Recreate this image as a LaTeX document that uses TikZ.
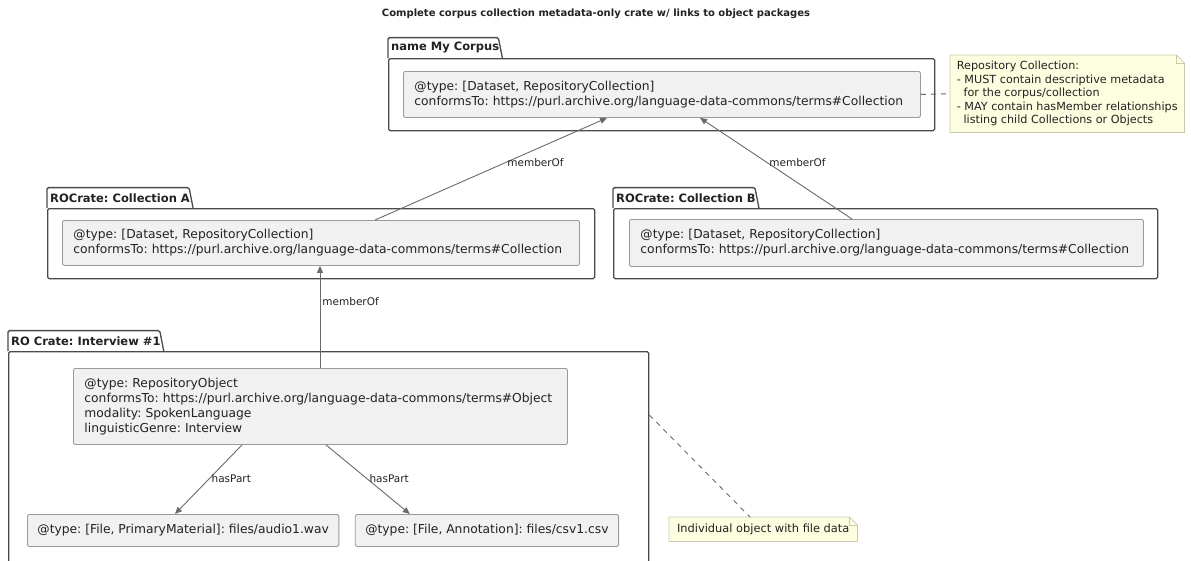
\documentclass[tikz,border=0pt]{standalone}
\usepackage{fontspec}
\setmainfont{DejaVu Sans}
\frenchspacing
\usetikzlibrary{arrows.meta,calc,backgrounds}
\definecolor{ink}{HTML}{222222}
\definecolor{pkgline}{HTML}{4A4A4A}
\definecolor{boxline}{HTML}{9A9A9A}
\definecolor{boxfill}{HTML}{F1F1F1}
\definecolor{relline}{HTML}{6A6A6A}
\definecolor{notefill}{HTML}{FDFDE0}
\definecolor{noteline}{HTML}{C9C9B0}
\tikzset{
  pkgbody/.style={draw=pkgline, line width=1.3pt, fill=white, inner sep=0pt, rounded corners=1.5pt},
  pkgtab/.style={inner xsep=3pt, inner ysep=0pt, minimum height=20pt, text=ink,
    font=\fontsize{11.5}{13}\selectfont\bfseries, anchor=south west},
  tabline/.style={draw=pkgline, line width=1.3pt, fill=white, rounded corners=1.5pt},
  entity/.style={draw=boxline, line width=0.9pt, fill=boxfill, rounded corners=2pt,
    inner xsep=11pt, inner ysep=0pt, align=left, text=ink, anchor=north west,
    font=\fontsize{12.3}{14.8}\selectfont},
  filebox/.style={entity, inner xsep=10pt, minimum height=32pt},
  rel/.style={draw=relline, line width=0.9pt, -{Triangle[length=7pt,width=6pt]}},
  rellabel/.style={right, inner xsep=2pt, text=ink, font=\fontsize{10.5}{12}\selectfont},
  notebox/.style={inner xsep=6pt, inner ysep=4pt, align=left, text=ink, anchor=north west},
  noteshape/.style={draw=noteline, line width=0.8pt, fill=notefill},
  notelink/.style={draw=relline, line width=0.9pt, dash pattern=on 5pt off 5pt},
  heading/.style={text=ink, font=\fontsize{10}{12}\selectfont\bfseries}
}
\begin{document}
\begin{tikzpicture}[x=1pt,y=-1pt]
\useasboundingbox (0,0) rectangle (1191,560);
\clip (0,0) rectangle (1191,560);

\node[heading] (title) at (596,14) {Complete corpus collection metadata-only crate w/ links to object packages};

% ---------- package: name My Corpus ----------
\node[pkgbody, anchor=north west, minimum width=546pt, minimum height=72pt] (pCorpus) at (388,58) {};
\node[pkgtab] (tCorpus) at (388,58) {name My Corpus\hspace{5pt}};
\node[entity, minimum width=517pt, minimum height=46pt, text width=495pt] (corpus) at (403,71)
  {@type: [Dataset, RepositoryCollection]\\conformsTo: https://purl.archive.org/language-data-commons/terms\#Collection};

% ---------- package: ROCrate: Collection A ----------
\node[pkgbody, anchor=north west, minimum width=547pt, minimum height=70pt] (pA) at (47,208) {};
\node[pkgtab] (tA) at (47,208) {ROCrate: Collection A\hspace{5pt}};
\node[entity, minimum width=517pt, minimum height=45pt, text width=495pt] (collA) at (62,220)
  {@type: [Dataset, RepositoryCollection]\\conformsTo: https://purl.archive.org/language-data-commons/terms\#Collection};

% ---------- package: ROCrate: Collection B ----------
\node[pkgbody, anchor=north west, minimum width=544pt, minimum height=70pt] (pB) at (613,208) {};
\node[pkgtab] (tB) at (613,208) {ROCrate: Collection B\hspace{5pt}};
\node[entity, minimum width=514pt, minimum height=47pt, text width=492pt] (collB) at (629,219)
  {@type: [Dataset, RepositoryCollection]\\conformsTo: https://purl.archive.org/language-data-commons/terms\#Collection};

% ---------- package: RO Crate: Interview #1 ----------
\node[pkgbody, anchor=north west, minimum width=640pt, minimum height=230pt] (pI) at (8,351) {};
\node[pkgtab] (tI) at (8,351) {RO Crate: Interview \#1\hspace{5pt}};
\node[entity, minimum width=494pt, minimum height=76pt, text width=472pt] (obj) at (73,368)
  {@type: RepositoryObject\\conformsTo: https://purl.archive.org/language-data-commons/terms\#Object\\modality: SpokenLanguage\\linguisticGenre: Interview};
\node[filebox] (audio) at (27,514) {@type: [File, PrimaryMaterial]: files/audio1.wav};
\node[filebox, anchor=north east] (csv) at (619,514) {@type: [File, Annotation]: files/csv1.csv};

% package tabs, drawn behind their labels
\begin{scope}[on background layer]
  \foreach \t in {tCorpus,tA,tB,tI}
    \draw[tabline] (\t.south west) -- (\t.north west) -- ([xshift=-4pt]\t.north east) -- (\t.south east);
\end{scope}

% ---------- relations ----------
\draw[rel] ($(collA.north west)+(313,0)$) -- node[rellabel, pos=0.56] {memberOf} ($(corpus.south west)+(204,0)$);
\draw[rel] ($(collB.north west)+(223,0)$) -- node[rellabel, pos=0.56] {memberOf} ($(corpus.south west)+(297,0)$);
\draw[rel] ($(obj.north west)+(247,0)$) -- node[rellabel, pos=0.65] {memberOf} ($(collA.south west)+(258,0)$);
\draw[rel] ($(obj.south west)+(169,0)$) -- node[rellabel, pos=0.49] {hasPart} ($(audio.north west)+(148,0)$);
\draw[rel] ($(obj.south west)+(253,0)$) -- node[rellabel, pos=0.49] {hasPart} ($(csv.north west)+(55,0)$);

% ---------- notes ----------
\node[notebox, font=\fontsize{11.2}{13.6}\selectfont, minimum width=234pt, minimum height=77pt] (note1) at (950,55)
  {Repository Collection:\\- MUST contain descriptive metadata\\\hspace*{0.6em}for the corpus/collection\\- MAY contain hasMember relationships\\\hspace*{0.6em}listing child Collections or Objects};
\node[notebox, font=\fontsize{11.4}{13}\selectfont, minimum width=188pt, minimum height=24pt, inner ysep=0pt] (note2) at (669,517)
  {Individual object with file data};
\begin{scope}[on background layer]
  \foreach \n in {note1,note2} {
    \draw[noteshape] (\n.north west) -- ([xshift=-8pt]\n.north east) -- ([yshift=-8pt]\n.north east) -- (\n.south east) -- (\n.south west) -- cycle;
    \draw[noteshape, fill=none] ([xshift=-8pt]\n.north east) -- ([xshift=-8pt,yshift=-8pt]\n.north east) -- ([yshift=-8pt]\n.north east);
  }
\end{scope}

\draw[notelink] (corpus.east) -- (note1.west);
\draw[notelink] ($(pI.north east)+(0,64)$) -- ($(note2.north west)+(81,0)$);
\end{tikzpicture}
\end{document}
